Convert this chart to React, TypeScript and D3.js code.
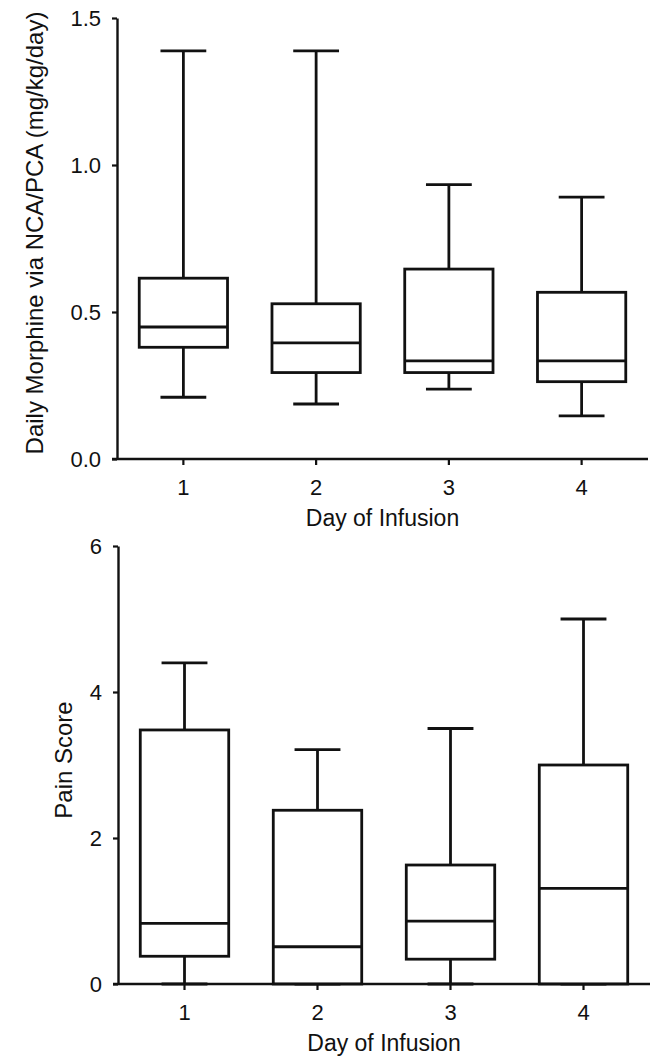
import React, { useEffect, useRef } from 'react';
import * as d3 from 'd3';

// days on the x axis
const days = ['1', '2', '3', '4'];

// Daily morphine via NCA/PCA (mg/kg/day)
const morphineMin = [0.21, 0.187, 0.238, 0.147];
const morphineQ1 = [0.38, 0.294, 0.294, 0.263];
const morphineMedian = [0.449, 0.395, 0.334, 0.334];
const morphineQ3 = [0.615, 0.528, 0.646, 0.567];
const morphineMax = [1.388, 1.388, 0.933, 0.891];
const morphineTicks = [0, 0.5, 1.0, 1.5];

// Pain score
const painMin = [0, 0, 0, 0];
const painQ1 = [0.38, 0, 0.34, 0];
const painMedian = [0.83, 0.51, 0.86, 1.31];
const painQ3 = [3.48, 2.38, 1.63, 3.0];
const painMax = [4.4, 3.21, 3.5, 5.0];
const painTicks = [0, 2, 4, 6];

const FONT = '"Liberation Sans", Arial, sans-serif';
const INK = '#111';

type Panel = {
    min: number[];
    q1: number[];
    med: number[];
    q3: number[];
    max: number[];
    ticks: number[];
    fmt: (d: number) => string;
    yTitle: string;
    yTitleX: number;
    yTitleY: number;
    left: number;
    right: number;
    top: number;
    bottom: number;
};

function drawPanel(svg: d3.Selection<SVGSVGElement, unknown, null, undefined>, p: Panel) {
    const x = d3.scaleBand<string>().domain(days).range([p.left, p.right]).padding(0);
    const y = d3.scaleLinear()
        .domain([p.ticks[0], p.ticks[p.ticks.length - 1]])
        .range([p.bottom, p.top]);

    const g = svg.append('g');
    const bw = x.bandwidth();
    const boxW = bw * 0.665;
    const capW = bw * 0.345;

    const rows = days.map((d, i) => ({
        day: d, min: p.min[i], q1: p.q1[i], med: p.med[i], q3: p.q3[i], max: p.max[i],
    }));

    const box = g.selectAll('.box').data(rows).enter().append('g')
        .attr('transform', d => `translate(${x(d.day)! + bw / 2},0)`)
        .attr('stroke', INK)
        .attr('stroke-width', 2.8)
        .attr('fill', 'none');

    // whiskers
    box.append('line').attr('x1', 0).attr('x2', 0).attr('y1', d => y(d.q3)).attr('y2', d => y(d.max));
    box.append('line').attr('x1', 0).attr('x2', 0).attr('y1', d => y(d.q1)).attr('y2', d => y(d.min));
    box.append('line').attr('x1', -capW / 2).attr('x2', capW / 2).attr('y1', d => y(d.max)).attr('y2', d => y(d.max));
    box.append('line').attr('x1', -capW / 2).attr('x2', capW / 2).attr('y1', d => y(d.min)).attr('y2', d => y(d.min));

    box.append('rect')
        .attr('x', -boxW / 2)
        .attr('width', boxW)
        .attr('y', d => y(d.q3))
        .attr('height', d => y(d.q1) - y(d.q3))
        .attr('fill', '#fff');
    box.append('line').attr('x1', -boxW / 2).attr('x2', boxW / 2).attr('y1', d => y(d.med)).attr('y2', d => y(d.med));

    // y axis
    const ya = g.append('g')
        .attr('transform', `translate(${p.left},0)`)
        .call(d3.axisLeft(y).tickValues(p.ticks).tickFormat(d => p.fmt(+d)).tickSize(5).tickSizeOuter(0).tickPadding(11));
    ya.select('.domain').attr('stroke', INK).attr('stroke-width', 2.4);
    ya.selectAll('.tick line').attr('stroke', INK).attr('stroke-width', 2.2);
    ya.selectAll('.tick text').attr('font-family', FONT).attr('font-size', 22).attr('fill', INK).attr('dy', '0.36em');

    // x axis
    const xa = g.append('g')
        .attr('transform', `translate(0,${p.bottom})`)
        .call(d3.axisBottom(x).tickSize(6).tickSizeOuter(0).tickPadding(14));
    xa.select('.domain').remove();
    xa.selectAll('.tick line').attr('stroke', INK).attr('stroke-width', 2.2);
    xa.selectAll('.tick text').attr('font-family', FONT).attr('font-size', 22).attr('fill', INK);
    g.append('line')
        .attr('x1', p.left - 5).attr('x2', p.right)
        .attr('y1', p.bottom).attr('y2', p.bottom)
        .attr('stroke', INK).attr('stroke-width', 2.4);

    g.append('text')
        .attr('x', (p.left + p.right) / 2)
        .attr('y', p.bottom + 67)
        .attr('text-anchor', 'middle')
        .attr('font-family', FONT)
        .attr('font-size', 23)
        .attr('fill', INK)
        .text('Day of Infusion');

    g.append('text')
        .attr('transform', `translate(${p.yTitleX},${p.yTitleY}) rotate(-90)`)
        .attr('text-anchor', 'middle')
        .attr('font-family', FONT)
        .attr('font-size', 24)
        .attr('fill', INK)
        .text(p.yTitle);
}

const App = () => {
    const svgRef = useRef<SVGSVGElement>(null);

    useEffect(() => {
        const svg = d3.select(svgRef.current!);
        svg.selectAll('*').remove();

        drawPanel(svg, {
            min: morphineMin, q1: morphineQ1, med: morphineMedian, q3: morphineQ3, max: morphineMax,
            ticks: morphineTicks,
            fmt: d3.format('.1f'),
            yTitle: 'Daily Morphine via NCA/PCA (mg/kg/day)',
            yTitleX: 43, yTitleY: 233,
            left: 117, right: 648, top: 18, bottom: 459,
        });

        drawPanel(svg, {
            min: painMin, q1: painQ1, med: painMedian, q3: painQ3, max: painMax,
            ticks: painTicks,
            fmt: d3.format('d'),
            yTitle: 'Pain Score',
            yTitleX: 72, yTitleY: 760,
            left: 118, right: 650, top: 546, bottom: 984,
        });
    }, []);

    return (
        <svg
            ref={svgRef}
            width={659}
            height={1058}
            style={{ position: 'absolute', left: 0, top: 0, background: '#fff' }}
        />
    );
};

export default App;
